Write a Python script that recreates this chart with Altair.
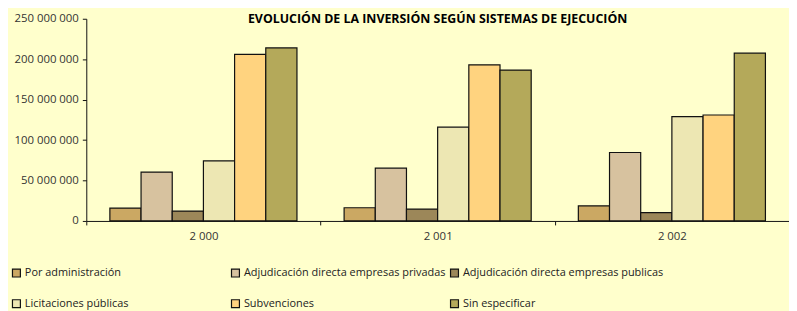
import altair as alt
import pandas as pd

title_text = ["EVOLUCIÓN DE LA INVERSIÓN SEGÚN SISTEMAS DE EJECUCIÓN"]
years = ["2 000", "2 001", "2 002"]
series = [
    "Por administración",
    "Adjudicación directa empresas privadas",
    "Adjudicación directa empresas publicas",
    "Licitaciones públicas",
    "Subvenciones",
    "Sin especificar",
]
por_administracion = [15.9e6, 16.3e6, 18.7e6]
adj_privadas = [60.4e6, 65.3e6, 84.6e6]
adj_publicas = [12.2e6, 14.7e6, 10.2e6]
licitaciones = [74.3e6, 116.0e6, 129.0e6]
subvenciones = [205.9e6, 193.0e6, 131.0e6]
sin_especificar = [214.0e6, 186.6e6, 207.5e6]
colors = ["#CBA863", "#D7C29F", "#9C8759", "#EDE7B3", "#FFD37F", "#B4A95A"]

all_vals = [por_administracion, adj_privadas, adj_publicas, licitaciones, subvenciones, sin_especificar]
rows = []
for s, vals in zip(series, all_vals):
    for y, v in zip(years, vals):
        rows.append({"year": y, "serie": s, "value": v})
df = pd.DataFrame(rows)

FONT = "Open Sans"
W, H = 709, 204

bars = alt.Chart(df).mark_bar(stroke="#111111", strokeWidth=1.2).encode(
    x=alt.X("year:N", sort=years, title=None,
            scale=alt.Scale(paddingInner=0, paddingOuter=0),
            axis=alt.Axis(labelAngle=0, tickBand="extent", tickSize=4, labelPadding=6,
                          domainColor="#111111", tickColor="#111111", labelColor="#333333",
                          labelFont=FONT, labelFontSize=11.5)),
    xOffset=alt.XOffset("serie:N", sort=series,
                        scale=alt.Scale(paddingInner=0, paddingOuter=0.756)),
    y=alt.Y("value:Q", title=None,
            scale=alt.Scale(domain=[0, 250e6], nice=False),
            axis=alt.Axis(values=[0, 50e6, 100e6, 150e6, 200e6, 250e6], grid=False,
                          tickSize=4, labelPadding=4,
                          labelExpr="replace(replace(format(datum.value, ','), ',', ' '), ',', ' ')",
                          domainColor="#111111", tickColor="#111111", labelColor="#333333",
                          labelFont=FONT, labelFontSize=11.5)),
    color=alt.Color("serie:N", sort=series,
                    scale=alt.Scale(domain=series, range=colors),
                    legend=alt.Legend(title=None, orient="none", legendX=-76, legendY=251,
                                      direction="horizontal",
                                      columns=3, gridAlign="all", columnPadding=2, rowPadding=18,
                                      symbolType="square", symbolSize=64, symbolStrokeColor="#111111",
                                      symbolStrokeWidth=1.2, labelFont=FONT, labelFontSize=11,
                                      labelColor="#222222", labelOffset=3, labelLimit=400)),
)

title = alt.Chart(pd.DataFrame({"t": title_text})).mark_text(
    font=FONT, fontSize=12.5, fontWeight="bold", color="#000000",
    align="center", baseline="alphabetic",
).encode(text="t:N", x=alt.value(W / 2), y=alt.value(4.5))

chart = alt.layer(bars, title).properties(
    width=W,
    height=H,
    background="#FFFFCC",
    autosize=alt.AutoSizeParams(type="none"),
    padding={"left": 79, "top": 9.5, "right": 0, "bottom": 89.5},
).configure_view(stroke=None)

chart.save("out.html", embed_options={"renderer": "svg", "actions": False})
